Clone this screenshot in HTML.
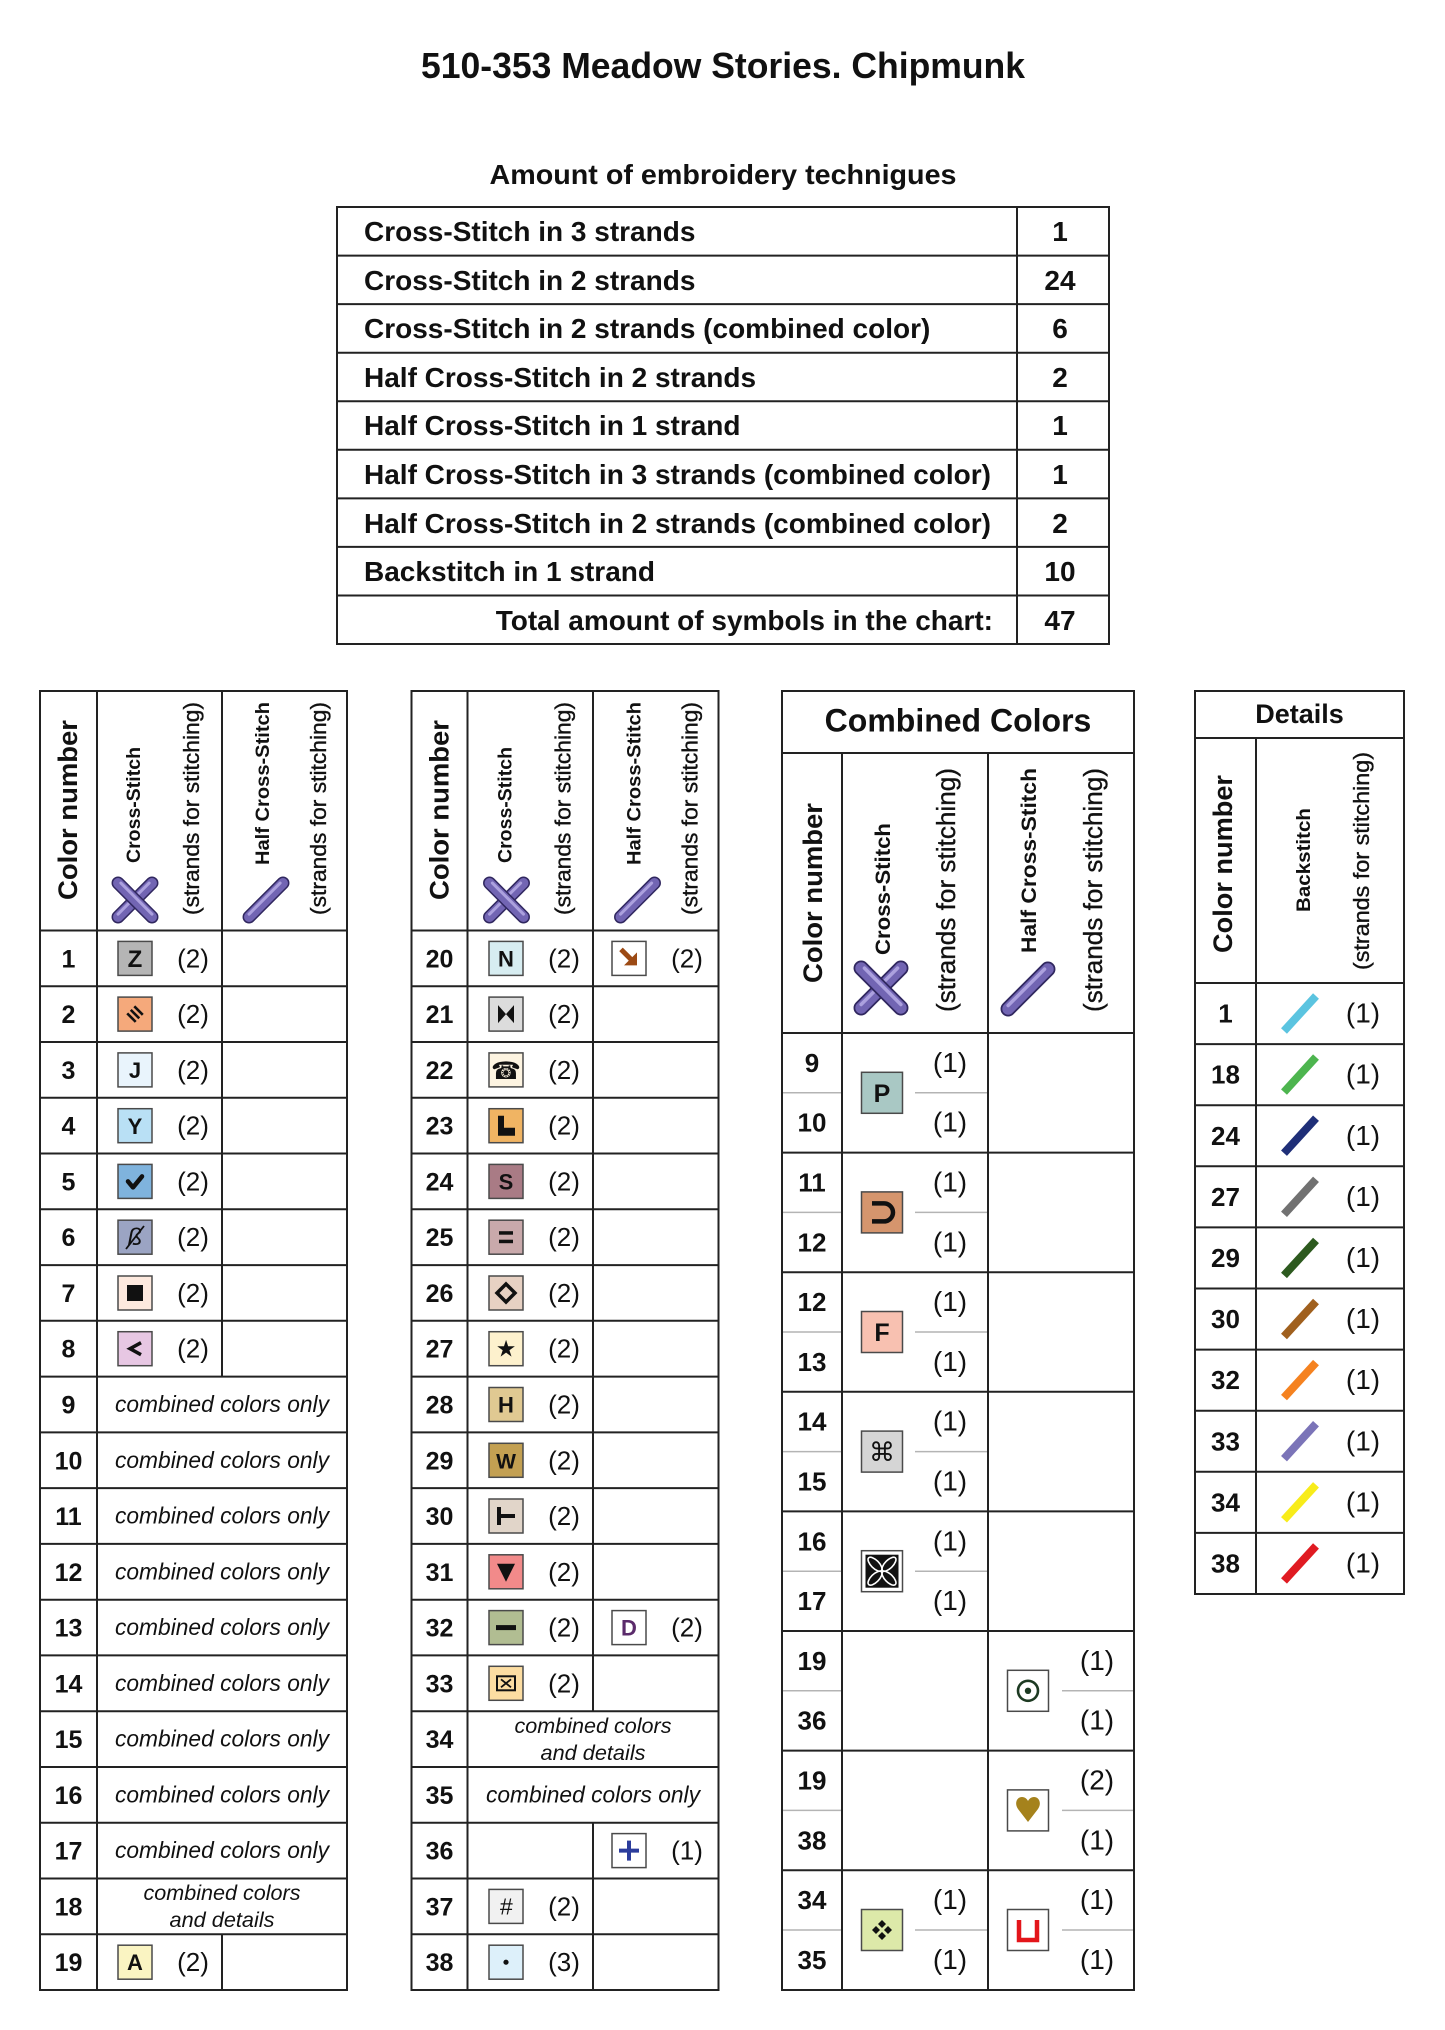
<!DOCTYPE html>
<html>
<head>
<meta charset="utf-8">
<style>
html,body{margin:0;padding:0;background:#fff;}
svg{display:block;}
.b{font-family:"Liberation Sans",sans-serif;font-weight:bold;fill:#111;}
.r{font-family:"Liberation Sans",sans-serif;fill:#111;}
.rh{font-family:"Liberation Sans",sans-serif;fill:#111;stroke:#111;stroke-width:0.35;}
.it{font-family:"Liberation Sans",sans-serif;font-style:italic;fill:#111;}
.s{font-family:"DejaVu Sans",sans-serif;fill:#111;}
.ln{stroke:#222;stroke-width:2;fill:none;}
.th{stroke:#b4b4b4;stroke-width:1.5;}
.bx{stroke:#4a4a4a;stroke-width:1.5;}
</style>
</head>
<body>
<svg width="1445" height="2030" viewBox="0 0 1445 2030" xmlns="http://www.w3.org/2000/svg">
<defs>
  <g id="bar">
    <line x1="-24" y1="0" x2="24" y2="0" stroke="#30275f" stroke-width="13" stroke-linecap="round"/>
    <line x1="-24" y1="0" x2="24" y2="0" stroke="#7265b3" stroke-width="10" stroke-linecap="round"/>
    <line x1="-22" y1="-2" x2="22" y2="-2" stroke="#aca1de" stroke-width="3" stroke-linecap="round"/>
  </g>
  <g id="cross">
    <use href="#bar" transform="rotate(-45)"/>
    <use href="#bar" transform="rotate(45)"/>
  </g>
  <g id="slash">
    <use href="#bar" transform="rotate(-45)"/>
  </g>
</defs>

<!-- Title -->
<text class="b" x="723" y="78" font-size="36" text-anchor="middle" textLength="604" lengthAdjust="spacingAndGlyphs">510-353 Meadow Stories. Chipmunk</text>
<text class="b" x="723" y="184" font-size="28" text-anchor="middle" textLength="467" lengthAdjust="spacingAndGlyphs">Amount of embroidery technigues</text>

<!-- Summary table -->
<rect class="ln" x="337" y="207" width="772" height="437"/>
<g class="ln">
<line x1="337" y1="255.6" x2="1109" y2="255.6"/>
<line x1="337" y1="304.1" x2="1109" y2="304.1"/>
<line x1="337" y1="352.7" x2="1109" y2="352.7"/>
<line x1="337" y1="401.2" x2="1109" y2="401.2"/>
<line x1="337" y1="449.8" x2="1109" y2="449.8"/>
<line x1="337" y1="498.4" x2="1109" y2="498.4"/>
<line x1="337" y1="546.9" x2="1109" y2="546.9"/>
<line x1="337" y1="595.5" x2="1109" y2="595.5"/>
<line x1="1017" y1="207" x2="1017" y2="644"/>
</g>
<g class="b" font-size="28">
<text x="364" y="241">Cross-Stitch in 3 strands</text>
<text x="364" y="290">Cross-Stitch in 2 strands</text>
<text x="364" y="338">Cross-Stitch in 2 strands (combined color)</text>
<text x="364" y="387">Half Cross-Stitch in 2 strands</text>
<text x="364" y="435">Half Cross-Stitch in 1 strand</text>
<text x="364" y="484">Half Cross-Stitch in 3 strands (combined color)</text>
<text x="364" y="533">Half Cross-Stitch in 2 strands (combined color)</text>
<text x="364" y="581">Backstitch in 1 strand</text>
<text x="993" y="630" text-anchor="end">Total amount of symbols in the chart:</text>
</g>
<g class="b" font-size="28" text-anchor="middle">
<text x="1060" y="241">1</text>
<text x="1060" y="290">24</text>
<text x="1060" y="338">6</text>
<text x="1060" y="387">2</text>
<text x="1060" y="435">1</text>
<text x="1060" y="484">1</text>
<text x="1060" y="533">2</text>
<text x="1060" y="581">10</text>
<text x="1060" y="630">47</text>
</g>

<!-- ================= TABLE 1 ================= -->
<rect class="ln" x="40" y="691" width="307" height="1299"/>
<g class="ln">
<line x1="97" y1="691" x2="97" y2="1990"/>
<line x1="222" y1="691" x2="222" y2="1376.6"/>
<line x1="222" y1="1934.3" x2="222" y2="1990"/>
<line x1="40" y1="930.5" x2="347" y2="930.5"/>
<line x1="40" y1="986.3" x2="347" y2="986.3"/>
<line x1="40" y1="1042" x2="347" y2="1042"/>
<line x1="40" y1="1097.8" x2="347" y2="1097.8"/>
<line x1="40" y1="1153.5" x2="347" y2="1153.5"/>
<line x1="40" y1="1209.3" x2="347" y2="1209.3"/>
<line x1="40" y1="1265.1" x2="347" y2="1265.1"/>
<line x1="40" y1="1320.8" x2="347" y2="1320.8"/>
<line x1="40" y1="1376.6" x2="347" y2="1376.6"/>
<line x1="40" y1="1432.4" x2="347" y2="1432.4"/>
<line x1="40" y1="1488.1" x2="347" y2="1488.1"/>
<line x1="40" y1="1543.9" x2="347" y2="1543.9"/>
<line x1="40" y1="1599.7" x2="347" y2="1599.7"/>
<line x1="40" y1="1655.4" x2="347" y2="1655.4"/>
<line x1="40" y1="1711.2" x2="347" y2="1711.2"/>
<line x1="40" y1="1767" x2="347" y2="1767"/>
<line x1="40" y1="1822.7" x2="347" y2="1822.7"/>
<line x1="40" y1="1878.5" x2="347" y2="1878.5"/>
<line x1="40" y1="1934.3" x2="347" y2="1934.3"/>
</g>
<!-- header -->
<text class="b" font-size="27" text-anchor="middle" textLength="180" lengthAdjust="spacingAndGlyphs" transform="translate(77,810) rotate(-90)">Color number</text>
<text class="b" font-size="19" text-anchor="middle" textLength="116" lengthAdjust="spacingAndGlyphs" transform="translate(140,805) rotate(-90)">Cross-Stitch</text>
<text class="rh" font-size="22" text-anchor="middle" textLength="213" lengthAdjust="spacingAndGlyphs" transform="translate(199,808.5) rotate(-90)">(strands for stitching)</text>
<use href="#cross" transform="translate(135,900)"/>
<text class="b" font-size="19" text-anchor="middle" textLength="163" lengthAdjust="spacingAndGlyphs" transform="translate(269,783.5) rotate(-90)">Half Cross-Stitch</text>
<use href="#slash" transform="translate(266,900)"/>
<text class="rh" font-size="22" text-anchor="middle" textLength="213" lengthAdjust="spacingAndGlyphs" transform="translate(326,808.5) rotate(-90)">(strands for stitching)</text>

<!-- numbers -->
<g class="b" font-size="25" text-anchor="middle">
<text x="68.5" y="967.4">1</text>
<text x="68.5" y="1023.1">2</text>
<text x="68.5" y="1078.9">3</text>
<text x="68.5" y="1134.7">4</text>
<text x="68.5" y="1190.4">5</text>
<text x="68.5" y="1246.2">6</text>
<text x="68.5" y="1302">7</text>
<text x="68.5" y="1357.7">8</text>
<text x="68.5" y="1413.5">9</text>
<text x="68.5" y="1469.3">10</text>
<text x="68.5" y="1525">11</text>
<text x="68.5" y="1580.8">12</text>
<text x="68.5" y="1636.6">13</text>
<text x="68.5" y="1692.3">14</text>
<text x="68.5" y="1748.1">15</text>
<text x="68.5" y="1803.9">16</text>
<text x="68.5" y="1859.6">17</text>
<text x="68.5" y="1915.4">18</text>
<text x="68.5" y="1971.2">19</text>
</g>
<!-- strands -->
<g class="r" font-size="26" text-anchor="middle">
<text x="193" y="967.4">(2)</text>
<text x="193" y="1023.1">(2)</text>
<text x="193" y="1078.9">(2)</text>
<text x="193" y="1134.7">(2)</text>
<text x="193" y="1190.4">(2)</text>
<text x="193" y="1246.2">(2)</text>
<text x="193" y="1302">(2)</text>
<text x="193" y="1357.7">(2)</text>
<text x="193" y="1971.2">(2)</text>
</g>
<!-- combined colors only -->
<g class="it" font-size="23" text-anchor="middle">
<text x="222" y="1412" textLength="214" lengthAdjust="spacingAndGlyphs">combined colors only</text>
<text x="222" y="1467.8" textLength="214" lengthAdjust="spacingAndGlyphs">combined colors only</text>
<text x="222" y="1523.5" textLength="214" lengthAdjust="spacingAndGlyphs">combined colors only</text>
<text x="222" y="1579.3" textLength="214" lengthAdjust="spacingAndGlyphs">combined colors only</text>
<text x="222" y="1635.1" textLength="214" lengthAdjust="spacingAndGlyphs">combined colors only</text>
<text x="222" y="1690.8" textLength="214" lengthAdjust="spacingAndGlyphs">combined colors only</text>
<text x="222" y="1746.6" textLength="214" lengthAdjust="spacingAndGlyphs">combined colors only</text>
<text x="222" y="1802.4" textLength="214" lengthAdjust="spacingAndGlyphs">combined colors only</text>
<text x="222" y="1858.1" textLength="214" lengthAdjust="spacingAndGlyphs">combined colors only</text>
</g>
<g class="it" font-size="21" text-anchor="middle">
<text x="222" y="1900" textLength="157" lengthAdjust="spacingAndGlyphs">combined colors</text>
<text x="222" y="1927" textLength="105" lengthAdjust="spacingAndGlyphs">and details</text>
</g>
<!-- T1 symbols -->
<rect class="bx" x="118" y="941.4" width="34" height="34" fill="#b5b5b5"/>
<text class="b" x="135" y="967" font-size="24" text-anchor="middle">Z</text>
<rect class="bx" x="118" y="997.1" width="34" height="34" fill="#f5a97b"/>
<g transform="translate(135,1014.1) rotate(45)" stroke="#111" stroke-width="2.6">
<line x1="-6" y1="-5" x2="6" y2="-5"/><line x1="-6" y1="0" x2="6" y2="0"/><line x1="-6" y1="5" x2="6" y2="5"/>
</g>
<rect class="bx" x="118" y="1052.9" width="34" height="34" fill="#e9f4fc"/>
<text class="b" x="135" y="1078" font-size="22" text-anchor="middle">J</text>
<rect class="bx" x="118" y="1108.7" width="34" height="34" fill="#b9e0f5"/>
<text class="b" x="135" y="1133.8" font-size="22" text-anchor="middle">Y</text>
<rect class="bx" x="118" y="1164.4" width="34" height="34" fill="#7fb3dd"/>
<polyline points="128,1181.4 133,1187.4 142,1176.4" fill="none" stroke="#111" stroke-width="4.5" stroke-linecap="round" stroke-linejoin="round"/>
<rect class="bx" x="118" y="1220.2" width="34" height="34" fill="#9ba4c3"/>
<text class="it" x="135" y="1245" font-size="24" text-anchor="middle">ß</text>
<line x1="126" y1="1249" x2="144" y2="1226" stroke="#111" stroke-width="1.8"/>
<rect class="bx" x="118" y="1276" width="34" height="34" fill="#fde9de"/>
<rect x="127" y="1285" width="16" height="16" fill="#111"/>
<rect class="bx" x="118" y="1331.7" width="34" height="34" fill="#e7c7e3"/>
<polyline points="141,1342.7 130,1348.7 141,1354.7" fill="none" stroke="#111" stroke-width="3.5"/>
<rect class="bx" x="118" y="1945.2" width="34" height="34" fill="#faf4c2"/>
<text class="b" x="135" y="1970" font-size="22" text-anchor="middle">A</text>

<!-- ================= TABLE 2 ================= -->
<rect class="ln" x="411.5" y="691" width="307" height="1299"/>
<g class="ln">
<line x1="467.5" y1="691" x2="467.5" y2="1990"/>
<line x1="593" y1="691" x2="593" y2="1711.2"/>
<line x1="593" y1="1822.7" x2="593" y2="1990"/>
<line x1="411.5" y1="930.5" x2="718.5" y2="930.5"/>
<line x1="411.5" y1="986.3" x2="718.5" y2="986.3"/>
<line x1="411.5" y1="1042" x2="718.5" y2="1042"/>
<line x1="411.5" y1="1097.8" x2="718.5" y2="1097.8"/>
<line x1="411.5" y1="1153.5" x2="718.5" y2="1153.5"/>
<line x1="411.5" y1="1209.3" x2="718.5" y2="1209.3"/>
<line x1="411.5" y1="1265.1" x2="718.5" y2="1265.1"/>
<line x1="411.5" y1="1320.8" x2="718.5" y2="1320.8"/>
<line x1="411.5" y1="1376.6" x2="718.5" y2="1376.6"/>
<line x1="411.5" y1="1432.4" x2="718.5" y2="1432.4"/>
<line x1="411.5" y1="1488.1" x2="718.5" y2="1488.1"/>
<line x1="411.5" y1="1543.9" x2="718.5" y2="1543.9"/>
<line x1="411.5" y1="1599.7" x2="718.5" y2="1599.7"/>
<line x1="411.5" y1="1655.4" x2="718.5" y2="1655.4"/>
<line x1="411.5" y1="1711.2" x2="718.5" y2="1711.2"/>
<line x1="411.5" y1="1767" x2="718.5" y2="1767"/>
<line x1="411.5" y1="1822.7" x2="718.5" y2="1822.7"/>
<line x1="411.5" y1="1878.5" x2="718.5" y2="1878.5"/>
<line x1="411.5" y1="1934.3" x2="718.5" y2="1934.3"/>
</g>
<text class="b" font-size="27" text-anchor="middle" textLength="180" lengthAdjust="spacingAndGlyphs" transform="translate(448.5,810) rotate(-90)">Color number</text>
<text class="b" font-size="19" text-anchor="middle" textLength="116" lengthAdjust="spacingAndGlyphs" transform="translate(511.5,805) rotate(-90)">Cross-Stitch</text>
<text class="rh" font-size="22" text-anchor="middle" textLength="213" lengthAdjust="spacingAndGlyphs" transform="translate(570.5,808.5) rotate(-90)">(strands for stitching)</text>
<use href="#cross" transform="translate(506.5,900)"/>
<text class="b" font-size="19" text-anchor="middle" textLength="163" lengthAdjust="spacingAndGlyphs" transform="translate(640.5,783.5) rotate(-90)">Half Cross-Stitch</text>
<use href="#slash" transform="translate(637.5,900)"/>
<text class="rh" font-size="22" text-anchor="middle" textLength="213" lengthAdjust="spacingAndGlyphs" transform="translate(697.5,808.5) rotate(-90)">(strands for stitching)</text>

<g class="b" font-size="25" text-anchor="middle">
<text x="439.5" y="967.4">20</text>
<text x="439.5" y="1023.1">21</text>
<text x="439.5" y="1078.9">22</text>
<text x="439.5" y="1134.7">23</text>
<text x="439.5" y="1190.4">24</text>
<text x="439.5" y="1246.2">25</text>
<text x="439.5" y="1302">26</text>
<text x="439.5" y="1357.7">27</text>
<text x="439.5" y="1413.5">28</text>
<text x="439.5" y="1469.3">29</text>
<text x="439.5" y="1525">30</text>
<text x="439.5" y="1580.8">31</text>
<text x="439.5" y="1636.6">32</text>
<text x="439.5" y="1692.3">33</text>
<text x="439.5" y="1748.1">34</text>
<text x="439.5" y="1803.9">35</text>
<text x="439.5" y="1859.6">36</text>
<text x="439.5" y="1915.4">37</text>
<text x="439.5" y="1971.2">38</text>
</g>
<g class="r" font-size="26" text-anchor="middle">
<text x="564" y="967.4">(2)</text>
<text x="564" y="1023.1">(2)</text>
<text x="564" y="1078.9">(2)</text>
<text x="564" y="1134.7">(2)</text>
<text x="564" y="1190.4">(2)</text>
<text x="564" y="1246.2">(2)</text>
<text x="564" y="1302">(2)</text>
<text x="564" y="1357.7">(2)</text>
<text x="564" y="1413.5">(2)</text>
<text x="564" y="1469.3">(2)</text>
<text x="564" y="1525">(2)</text>
<text x="564" y="1580.8">(2)</text>
<text x="564" y="1636.6">(2)</text>
<text x="564" y="1692.3">(2)</text>
<text x="564" y="1915.4">(2)</text>
<text x="564" y="1971.2">(3)</text>
<text x="687" y="967.4">(2)</text>
<text x="687" y="1636.6">(2)</text>
<text x="687" y="1859.6">(1)</text>
</g>
<g class="it" font-size="21" text-anchor="middle">
<text x="593" y="1733" textLength="157" lengthAdjust="spacingAndGlyphs">combined colors</text>
<text x="593" y="1760" textLength="105" lengthAdjust="spacingAndGlyphs">and details</text>
</g>
<text class="it" x="593" y="1802.4" font-size="23" text-anchor="middle" textLength="214" lengthAdjust="spacingAndGlyphs">combined colors only</text>

<!-- T2 symbols -->
<rect class="bx" x="489" y="941.4" width="34" height="34" fill="#d7edf1"/>
<text class="b" x="506" y="966.4" font-size="22" text-anchor="middle">N</text>
<rect class="bx" x="612" y="941.4" width="34" height="34" fill="#ffffff"/>
<line x1="621" y1="949.4" x2="631" y2="959.4" stroke="#9c4a14" stroke-width="5"/>
<polygon points="637,965.4 637,952.4 624,965.4" fill="#9c4a14"/>
<rect class="bx" x="489" y="997.1" width="34" height="34" fill="#dcdcdc"/>
<polygon points="498,1005.1 506,1014.1 498,1023.1" fill="#111"/>
<polygon points="514,1005.1 506,1014.1 514,1023.1" fill="#111"/>
<rect class="bx" x="489" y="1052.9" width="34" height="34" fill="#fdf4e1"/>
<text class="s" x="506" y="1078.9" font-size="24" text-anchor="middle">☎</text>
<rect class="bx" x="489" y="1108.7" width="34" height="34" fill="#f0b463"/>
<polygon points="498,1115.7 504,1115.7 504,1127.7 515,1127.7 515,1135.7 498,1135.7" fill="#111"/>
<rect class="bx" x="489" y="1164.4" width="34" height="34" fill="#a97b85"/>
<text class="b" x="506" y="1189.4" font-size="22" text-anchor="middle">S</text>
<rect class="bx" x="489" y="1220.2" width="34" height="34" fill="#c9a9ab"/>
<rect x="499" y="1231.2" width="14" height="3.5" fill="#111"/>
<rect x="499" y="1239.7" width="14" height="3.5" fill="#111"/>
<rect class="bx" x="489" y="1276" width="34" height="34" fill="#e7d1c3"/>
<polygon points="506,1284 515,1293 506,1302 497,1293" fill="none" stroke="#111" stroke-width="3.5"/>
<rect class="bx" x="489" y="1331.7" width="34" height="34" fill="#fdf1cd"/>
<text class="s" x="506" y="1356.7" font-size="23" text-anchor="middle">★</text>
<rect class="bx" x="489" y="1387.5" width="34" height="34" fill="#e0c992"/>
<text class="b" x="506" y="1412.5" font-size="22" text-anchor="middle">H</text>
<rect class="bx" x="489" y="1443.3" width="34" height="34" fill="#c3a052"/>
<text class="b" x="506" y="1468.3" font-size="21" text-anchor="middle">W</text>
<rect class="bx" x="489" y="1499" width="34" height="34" fill="#e1d5c9"/>
<line x1="499" y1="1507" x2="499" y2="1525" stroke="#111" stroke-width="4"/>
<line x1="499" y1="1516" x2="515" y2="1516" stroke="#111" stroke-width="4"/>
<rect class="bx" x="489" y="1554.8" width="34" height="34" fill="#f28a8a"/>
<polygon points="497,1563.8 515,1563.8 506,1581.8" fill="#111"/>
<rect class="bx" x="489" y="1610.6" width="34" height="34" fill="#b1bd92"/>
<rect x="496" y="1625.1" width="20" height="5" fill="#111"/>
<rect class="bx" x="612" y="1610.6" width="34" height="34" fill="#ffffff"/>
<text class="b" x="629" y="1635.6" font-size="22" text-anchor="middle" style="fill:#5b2b6b">D</text>
<rect class="bx" x="489" y="1666.3" width="34" height="34" fill="#fcdda2"/>
<rect x="497" y="1676.3" width="18" height="14" fill="none" stroke="#111" stroke-width="2"/>
<line x1="501" y1="1679.3" x2="511" y2="1687.3" stroke="#111" stroke-width="1.8"/>
<line x1="511" y1="1679.3" x2="501" y2="1687.3" stroke="#111" stroke-width="1.8"/>
<rect class="bx" x="612" y="1833.6" width="34" height="34" fill="#ffffff"/>
<line x1="619" y1="1850.6" x2="639" y2="1850.6" stroke="#2b3c9c" stroke-width="4"/>
<line x1="629" y1="1840.6" x2="629" y2="1860.6" stroke="#2b3c9c" stroke-width="4"/>
<rect class="bx" x="489" y="1889.4" width="34" height="34" fill="#f1f1f1"/>
<text class="it" x="506" y="1914.4" font-size="23" text-anchor="middle">#</text>
<rect class="bx" x="489" y="1945.2" width="34" height="34" fill="#ddf0fa"/>
<circle cx="506" cy="1962.2" r="2.6" fill="#111"/>

<!-- ================= TABLE 3 ================= -->
<rect class="ln" x="782" y="691" width="352" height="1299"/>
<g class="ln">
<line x1="782" y1="753" x2="1134" y2="753"/>
<line x1="782" y1="1033" x2="1134" y2="1033"/>
<line x1="842" y1="753" x2="842" y2="1990"/>
<line x1="988" y1="753" x2="988" y2="1990"/>
<line x1="782" y1="1152.6" x2="1134" y2="1152.6"/>
<line x1="782" y1="1272.2" x2="1134" y2="1272.2"/>
<line x1="782" y1="1391.8" x2="1134" y2="1391.8"/>
<line x1="782" y1="1511.4" x2="1134" y2="1511.4"/>
<line x1="782" y1="1631" x2="1134" y2="1631"/>
<line x1="782" y1="1750.6" x2="1134" y2="1750.6"/>
<line x1="782" y1="1870.2" x2="1134" y2="1870.2"/>
</g>
<g class="th">
<line x1="783" y1="1092.8" x2="841" y2="1092.8"/><line x1="915" y1="1092.8" x2="987" y2="1092.8"/>
<line x1="783" y1="1212.4" x2="841" y2="1212.4"/><line x1="915" y1="1212.4" x2="987" y2="1212.4"/>
<line x1="783" y1="1332" x2="841" y2="1332"/><line x1="915" y1="1332" x2="987" y2="1332"/>
<line x1="783" y1="1451.6" x2="841" y2="1451.6"/><line x1="915" y1="1451.6" x2="987" y2="1451.6"/>
<line x1="783" y1="1571.2" x2="841" y2="1571.2"/><line x1="915" y1="1571.2" x2="987" y2="1571.2"/>
<line x1="783" y1="1690.8" x2="841" y2="1690.8"/><line x1="1062" y1="1690.8" x2="1133" y2="1690.8"/>
<line x1="783" y1="1810.4" x2="841" y2="1810.4"/><line x1="1062" y1="1810.4" x2="1133" y2="1810.4"/>
<line x1="783" y1="1930" x2="841" y2="1930"/><line x1="915" y1="1930" x2="987" y2="1930"/><line x1="1062" y1="1930" x2="1133" y2="1930"/>
</g>
<text class="b" x="958" y="731.5" font-size="32" text-anchor="middle">Combined Colors</text>
<text class="b" font-size="27" text-anchor="middle" textLength="180" lengthAdjust="spacingAndGlyphs" transform="translate(822,893) rotate(-90)">Color number</text>
<text class="b" font-size="21" text-anchor="middle" textLength="132" lengthAdjust="spacingAndGlyphs" transform="translate(890,889) rotate(-90)">Cross-Stitch</text>
<use href="#cross" transform="translate(881,988) scale(1.17)"/>
<text class="rh" font-size="26" text-anchor="middle" textLength="244" lengthAdjust="spacingAndGlyphs" transform="translate(955,890) rotate(-90)">(strands for stitching)</text>
<text class="b" font-size="21" text-anchor="middle" textLength="185" lengthAdjust="spacingAndGlyphs" transform="translate(1036,860.5) rotate(-90)">Half Cross-Stitch</text>
<use href="#slash" transform="translate(1028,989) scale(1.17)"/>
<text class="rh" font-size="26" text-anchor="middle" textLength="244" lengthAdjust="spacingAndGlyphs" transform="translate(1102,890) rotate(-90)">(strands for stitching)</text>

<g class="b" font-size="26" text-anchor="middle">
<text x="812" y="1071.9">9</text><text x="812" y="1131.7">10</text>
<text x="812" y="1191.5">11</text><text x="812" y="1251.3">12</text>
<text x="812" y="1311.1">12</text><text x="812" y="1370.9">13</text>
<text x="812" y="1430.7">14</text><text x="812" y="1490.5">15</text>
<text x="812" y="1550.3">16</text><text x="812" y="1610.1">17</text>
<text x="812" y="1669.9">19</text><text x="812" y="1729.7">36</text>
<text x="812" y="1789.5">19</text><text x="812" y="1849.3">38</text>
<text x="812" y="1909.1">34</text><text x="812" y="1968.9">35</text>
</g>
<g class="r" font-size="28" text-anchor="middle">
<text x="950" y="1071.9">(1)</text><text x="950" y="1131.7">(1)</text>
<text x="950" y="1191.5">(1)</text><text x="950" y="1251.3">(1)</text>
<text x="950" y="1311.1">(1)</text><text x="950" y="1370.9">(1)</text>
<text x="950" y="1430.7">(1)</text><text x="950" y="1490.5">(1)</text>
<text x="950" y="1550.3">(1)</text><text x="950" y="1610.1">(1)</text>
<text x="1097" y="1669.9">(1)</text><text x="1097" y="1729.7">(1)</text>
<text x="1097" y="1789.5">(2)</text><text x="1097" y="1849.3">(1)</text>
<text x="950" y="1909.1">(1)</text><text x="950" y="1968.9">(1)</text>
<text x="1097" y="1909.1">(1)</text><text x="1097" y="1968.9">(1)</text>
</g>
<!-- T3 symbols -->
<rect class="bx" x="861.5" y="1072.3" width="41" height="41" fill="#a9c8c4"/>
<text class="b" x="882" y="1101.8" font-size="25" text-anchor="middle">P</text>
<rect class="bx" x="861.5" y="1191.9" width="41" height="41" fill="#d5956d"/>
<path d="M872,1203.4 H884 A9,9 0 0 1 884,1221.4 H872" fill="none" stroke="#111" stroke-width="4.5"/>
<rect class="bx" x="861.5" y="1311.5" width="41" height="41" fill="#f8c1b1"/>
<text class="b" x="882" y="1341" font-size="25" text-anchor="middle">F</text>
<rect class="bx" x="861.5" y="1431.1" width="41" height="41" fill="#d5d5d5"/>
<text class="s" x="882" y="1461" font-size="26" text-anchor="middle">⌘</text>
<rect class="bx" x="861.5" y="1550.7" width="41" height="41" fill="#ffffff"/>
<rect x="865.5" y="1554.7" width="33" height="33" fill="#111"/>
<g transform="translate(882,1571.2)" fill="none" stroke="#fff" stroke-width="1.6">
<ellipse cx="-7" cy="-7" rx="9" ry="4" transform="rotate(45 -7 -7)"/>
<ellipse cx="7" cy="-7" rx="9" ry="4" transform="rotate(-45 7 -7)"/>
<ellipse cx="-7" cy="7" rx="9" ry="4" transform="rotate(-45 -7 7)"/>
<ellipse cx="7" cy="7" rx="9" ry="4" transform="rotate(45 7 7)"/>
</g>
<rect class="bx" x="1007.5" y="1670.3" width="41" height="41" fill="#ffffff"/>
<circle cx="1028" cy="1690.8" r="10" fill="none" stroke="#1d3a22" stroke-width="2.6"/>
<circle cx="1028" cy="1690.8" r="3.2" fill="#1d3a22"/>
<rect class="bx" x="1007.5" y="1789.9" width="41" height="41" fill="#ffffff"/>
<path d="M1028,1822 L1018,1809 C1014,1803 1017,1797 1022,1797 C1025,1797 1027,1799 1028,1801 C1029,1799 1031,1797 1034,1797 C1039,1797 1042,1803 1038,1809 Z" fill="#a5821c"/>
<rect class="bx" x="861.5" y="1909.5" width="41" height="41" fill="#dde9a9"/>
<g fill="#111">
<polygon points="882,1920 886,1924 882,1928 878,1924"/>
<polygon points="882,1932 886,1936 882,1940 878,1936"/>
<polygon points="876,1926 880,1930 876,1934 872,1930"/>
<polygon points="888,1926 892,1930 888,1934 884,1930"/>
</g>
<rect class="bx" x="1007.5" y="1909.5" width="41" height="41" fill="#ffffff"/>
<path d="M1019,1920 V1940 H1037 V1920" fill="none" stroke="#e3151a" stroke-width="4.5"/>

<!-- ================= TABLE 4 ================= -->
<rect class="ln" x="1195" y="691" width="209" height="903"/>
<g class="ln">
<line x1="1195" y1="738" x2="1404" y2="738"/>
<line x1="1195" y1="983" x2="1404" y2="983"/>
<line x1="1256" y1="738" x2="1256" y2="1594"/>
<line x1="1195" y1="1044.1" x2="1404" y2="1044.1"/>
<line x1="1195" y1="1105.2" x2="1404" y2="1105.2"/>
<line x1="1195" y1="1166.3" x2="1404" y2="1166.3"/>
<line x1="1195" y1="1227.4" x2="1404" y2="1227.4"/>
<line x1="1195" y1="1288.5" x2="1404" y2="1288.5"/>
<line x1="1195" y1="1349.6" x2="1404" y2="1349.6"/>
<line x1="1195" y1="1410.7" x2="1404" y2="1410.7"/>
<line x1="1195" y1="1471.8" x2="1404" y2="1471.8"/>
<line x1="1195" y1="1532.9" x2="1404" y2="1532.9"/>
</g>
<text class="b" x="1299.5" y="723" font-size="27" text-anchor="middle">Details</text>
<text class="b" font-size="27" text-anchor="middle" textLength="178" lengthAdjust="spacingAndGlyphs" transform="translate(1232,864) rotate(-90)">Color number</text>
<text class="b" font-size="19" text-anchor="middle" textLength="104" lengthAdjust="spacingAndGlyphs" transform="translate(1310,860) rotate(-90)">Backstitch</text>
<text class="rh" font-size="22" text-anchor="middle" textLength="218" lengthAdjust="spacingAndGlyphs" transform="translate(1369,861) rotate(-90)">(strands for stitching)</text>
<g class="b" font-size="26" text-anchor="middle">
<text x="1225.5" y="1022.6">1</text>
<text x="1225.5" y="1083.7">18</text>
<text x="1225.5" y="1144.8">24</text>
<text x="1225.5" y="1205.9">27</text>
<text x="1225.5" y="1267">29</text>
<text x="1225.5" y="1328.1">30</text>
<text x="1225.5" y="1389.2">32</text>
<text x="1225.5" y="1450.3">33</text>
<text x="1225.5" y="1511.4">34</text>
<text x="1225.5" y="1572.5">38</text>
</g>
<g class="r" font-size="28" text-anchor="middle">
<text x="1363" y="1022.6">(1)</text>
<text x="1363" y="1083.7">(1)</text>
<text x="1363" y="1144.8">(1)</text>
<text x="1363" y="1205.9">(1)</text>
<text x="1363" y="1267">(1)</text>
<text x="1363" y="1328.1">(1)</text>
<text x="1363" y="1389.2">(1)</text>
<text x="1363" y="1450.3">(1)</text>
<text x="1363" y="1511.4">(1)</text>
<text x="1363" y="1572.5">(1)</text>
</g>
<g stroke-width="8">
<line x1="1284" y1="1031" x2="1316" y2="996" stroke="#5bc4e0"/>
<line x1="1284" y1="1092.1" x2="1316" y2="1057.1" stroke="#4db54f"/>
<line x1="1284" y1="1153.2" x2="1316" y2="1118.2" stroke="#1f2f78"/>
<line x1="1284" y1="1214.3" x2="1316" y2="1179.3" stroke="#717171"/>
<line x1="1284" y1="1275.4" x2="1316" y2="1240.4" stroke="#2d5a1f"/>
<line x1="1284" y1="1336.5" x2="1316" y2="1301.5" stroke="#a0601e"/>
<line x1="1284" y1="1397.6" x2="1316" y2="1362.6" stroke="#f58220"/>
<line x1="1284" y1="1458.7" x2="1316" y2="1423.7" stroke="#7b74b8"/>
<line x1="1284" y1="1519.8" x2="1316" y2="1484.8" stroke="#f8ec1a"/>
<line x1="1284" y1="1580.9" x2="1316" y2="1545.9" stroke="#e01b22"/>
</g>
</svg>
</body>
</html>
